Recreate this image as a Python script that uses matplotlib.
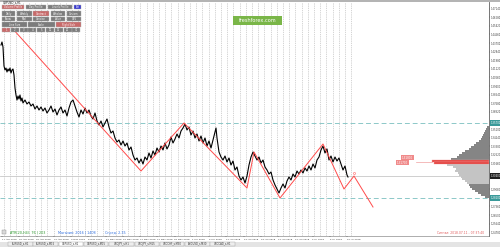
import matplotlib
matplotlib.use("Agg")
import matplotlib.pyplot as plt
import numpy as np
from matplotlib.patches import Rectangle

# ---- data ----
bars = [1, 2, 3, 4, 5, 6, 7, 8, 9, 10, 11, 12, 13, 14, 15, 16, 17, 18, 19, 20,
        21, 22, 23, 25, 27, 29, 31, 33, 35, 37, 39, 41, 43, 45, 47, 49, 51, 53, 55, 57,
        59, 61, 63, 65, 67, 69, 71, 73, 75, 77, 79, 81, 83, 85, 87, 89, 91, 93, 95, 97,
        99, 101, 103, 105, 107, 109, 111, 113, 115, 117, 119, 121, 123, 125, 127, 129, 131, 133, 135, 137,
        139, 141, 143, 145, 147, 149, 151, 153, 155, 157, 159, 161, 163, 165, 167, 169, 171, 173, 175, 177,
        179, 181, 183, 185, 187, 189, 191, 193, 195, 197, 199, 201, 203, 205, 207, 209, 211, 213, 215, 216,
        217, 219, 221, 223, 225, 227, 229, 231, 233, 235, 237, 239, 241, 243, 245, 247, 249, 251, 253, 255,
        257, 259, 261, 263, 265, 267, 269, 271, 273, 275, 277, 279, 281, 283, 285, 287, 289, 291, 293, 295,
        297, 299, 301, 303, 305, 307, 309, 311, 313, 315, 317, 319, 321, 323, 325, 327, 329, 331, 333, 335,
        337, 339, 341, 343, 345, 347, 348]
close = [1.435, 1.438, 1.433, 1.414, 1.410, 1.412, 1.408, 1.411, 1.409, 1.412, 1.407, 1.410, 1.411, 1.405, 1.392, 1.385, 1.380, 1.384, 1.381, 1.385,
         1.379, 1.382, 1.377, 1.380, 1.376, 1.378, 1.374, 1.376, 1.371, 1.374, 1.370, 1.373, 1.369, 1.372, 1.367, 1.370, 1.374, 1.368, 1.371, 1.365,
         1.370, 1.373, 1.367, 1.370, 1.364, 1.372, 1.378, 1.380, 1.374, 1.368, 1.363, 1.370, 1.366, 1.372, 1.367, 1.370, 1.364, 1.361, 1.367, 1.359,
         1.355, 1.359, 1.353, 1.357, 1.361, 1.353, 1.347, 1.349, 1.342, 1.338, 1.340, 1.335, 1.339, 1.334, 1.337, 1.330, 1.333, 1.325, 1.320, 1.322,
         1.317, 1.321, 1.316, 1.323, 1.320, 1.327, 1.322, 1.329, 1.325, 1.332, 1.328, 1.334, 1.330, 1.337, 1.331, 1.335, 1.343, 1.337, 1.341, 1.346,
         1.342, 1.349, 1.352, 1.356, 1.350, 1.353, 1.345, 1.349, 1.342, 1.346, 1.339, 1.344, 1.337, 1.342, 1.334, 1.339, 1.332, 1.340, 1.348, 1.352,
         1.342, 1.328, 1.323, 1.320, 1.324, 1.318, 1.322, 1.315, 1.319, 1.310, 1.313, 1.304, 1.300, 1.303, 1.297, 1.304, 1.315, 1.323, 1.328, 1.324,
         1.320, 1.323, 1.317, 1.320, 1.313, 1.310, 1.306, 1.308, 1.300, 1.295, 1.291, 1.287, 1.292, 1.296, 1.292, 1.299, 1.303, 1.300, 1.306, 1.303,
         1.309, 1.306, 1.310, 1.307, 1.312, 1.309, 1.314, 1.310, 1.316, 1.312, 1.320, 1.323, 1.330, 1.334, 1.327, 1.331, 1.320, 1.324, 1.318, 1.323,
         1.319, 1.322, 1.316, 1.310, 1.314, 1.305, 1.303]

zigzag_bars = [12, 141, 184, 247, 254, 280, 323, 344, 354, 373]
zigzag_price = [1.452, 1.309, 1.357, 1.292, 1.328, 1.282, 1.336, 1.291, 1.304, 1.273]

level_hi = 1.357
level_lo = 1.282
last_price = 1.304

profile_price = [1.353, 1.351, 1.349, 1.347, 1.345, 1.343, 1.341, 1.339, 1.337, 1.335,
                 1.333, 1.331, 1.329, 1.327, 1.325, 1.323, 1.321, 1.319, 1.317, 1.315,
                 1.313, 1.311, 1.309, 1.307, 1.305, 1.303, 1.301, 1.299, 1.297, 1.295,
                 1.293, 1.291, 1.289, 1.287, 1.285, 1.283]
profile_vol = [2, 3, 4, 5, 6, 7, 8, 10, 13, 15,
               18, 20, 24, 27, 30, 32, 38, 57, 55, 42,
               36, 33, 34, 31, 30, 28, 27, 24, 22, 20,
               19, 17, 14, 11, 8, 4]
poc_prices = [1.319, 1.317]
value_area = (1.296, 1.316)

date_labels = ["17 Apr 2018", "20 Apr 2018", "25 Apr 2018", "30 Apr 2018", "3 May 2018",
               "8 May 2018", "11 May 2018", "16 May 2018", "21 May 2018", "24 May 2018",
               "29 May 2018", "1 Jun 2018", "6 Jun 2018", "11 Jun 2018", "14 Jun 2018",
               "19 Jun 2018", "22 Jun 2018", "27 Jun 2018", "2 Jul 2018", "5 Jul 2018",
               "10 Jul 2018"]
tabs = ["EURUSD_s,H1", "EURUSD_s,M15", "GBPUSD_s,H1", "GBPUSD_s,M15", "USDJPY_s,H1",
        "USDJPY_s,M15", "USDCHF_s,M30", "AUDUSD_s,M30", "USDCAD_s,H1"]

W, H = 500, 247


def fr(x0, y0, x1, y1):
    return [x0 / W, 1 - y1 / H, (x1 - x0) / W, (y1 - y0) / H]


fig = plt.figure(figsize=(5, 2.47), dpi=100)
fig.patch.set_facecolor("white")

ax = fig.add_axes(fr(0, 2, 489, 236))
ax.set_xlim(0, 489)
ax.set_ylim(1.244, 1.478)
for s in ["top", "left", "bottom"]:
    ax.spines[s].set_visible(False)
ax.spines["right"].set_color("#606060")
ax.spines["right"].set_linewidth(0.6)

# period separators
for x in np.arange(4, 352, 6.2):
    ax.axvline(x, color="#bcbcbc", lw=0.45, ls=(0, (2, 1.5)), zorder=1)

ax.axhline(level_hi, color="#8cc8c8", lw=0.7, ls=(0, (5, 3)), zorder=2)
ax.axhline(level_lo, color="#8cc8c8", lw=0.7, ls=(0, (5, 3)), zorder=2)
ax.axhline(last_price, color="#c8c8c8", lw=0.6, zorder=2)

# volume profile
cols = []
for p in profile_price:
    if value_area[0] <= p <= value_area[1]:
        cols.append("#c4c4c4")
    else:
        cols.append("#858585")
ax.barh(profile_price, [-v for v in profile_vol], left=489, height=0.002,
        color=cols, linewidth=0, zorder=3)
ax.barh(poc_prices, [-57, -55], left=489, height=0.0022, color="#e23a36",
        edgecolor="#f5a0a0", linewidth=0.3, zorder=4)
ax.plot([416, 432], [1.318, 1.318], color="#f0a0a0", lw=0.5, zorder=4)
ax.text(402, 1.3215, "1.31800", fontsize=2, color="white", zorder=5,
        bbox=dict(boxstyle="square,pad=0.2", fc="#f08a8a", ec="none"))
ax.text(397, 1.3165, "1.31700", fontsize=2, color="white", zorder=5,
        bbox=dict(boxstyle="square,pad=0.2", fc="#f08a8a", ec="none"))

ax.plot(bars, close, color="black", lw=0.8, zorder=5)
ax.plot(zigzag_bars, zigzag_price, color="#ff4a4a", lw=0.7, zorder=6)
ax.plot([354], [1.307], marker="o", ms=1.5, mfc="none", mec="#ff6060", mew=0.4, zorder=6)

# right price scale (skip ticks hidden under the boxed levels)
boxed = [level_hi, level_lo, last_price]
ticks = [t for t in np.arange(1.2478, 1.478, 0.0086)
         if min(abs(t - b) for b in boxed) > 0.0055]
ax.yaxis.tick_right()
ax.set_yticks(ticks)
ax.set_yticklabels([f"{t:.5f}" for t in ticks], fontsize=1.8, color="#404040")
ax.tick_params(axis="y", length=1, width=0.3, pad=0.4, colors="#404040")
for val, fc in [(level_hi, "#3a9a9a"), (level_lo, "#3a9a9a"), (last_price, "#202020")]:
    ax.annotate(f"{val:.5f}", xy=(1.0, val), xycoords=("axes fraction", "data"),
                xytext=(1.0, 0), textcoords="offset points", fontsize=1.8, color="white",
                va="center", ha="left", zorder=7,
                bbox=dict(boxstyle="square,pad=0.25", fc=fc, ec="none"), annotation_clip=False)

# date scale
ax.set_xticks(np.linspace(2, 347, len(date_labels)))
ax.set_xticklabels(date_labels, fontsize=1.7, color="#303030", ha="left")
ax.tick_params(axis="x", length=1, width=0.3, pad=0.8)

# overlay in pixel space for terminal UI
ui = fig.add_axes([0, 0, 1, 1], zorder=10)
ui.set_xlim(0, W)
ui.set_ylim(H, 0)
ui.axis("off")
ui.patch.set_alpha(0)

ui.add_patch(Rectangle((0, 0), W, 2, fc="#b4b4b4", ec="none"))
ui.plot([0, 489], [236, 236], color="#707070", lw=0.4)
ui.text(3, 2.4, "GBPUSD_s,H1", fontsize=2, color="#202020", va="center")

gray = "#7c7c7c"
pink = "#c86a6a"
blue = "#3636d0"
rows = [
    (5, 9.5, [("Volume Profile", 2, 24, pink), ("Day Profile", 26, 46, gray),
              ("Levels Profile", 48, 72, gray), ("Ext", 74, 81, blue)]),
    (11.5, 16, [("Daily", 2, 15, gray), ("Weekly", 17, 32, gray), ("Contract", 33, 49, pink),
                ("Window", 51, 65, gray), ("Custom", 67, 81, gray)]),
    (17, 21.5, [("Show", 2, 15, gray), ("Mid", 17, 32, gray), ("Concise", 33, 49, gray),
                ("Value", 51, 65, gray), ("CSV", 67, 81, gray)]),
    (22.5, 27, [("Line Size", 2, 27, gray), ("Scale", 28, 55, gray), ("Right Side", 56, 81, pink)]),
]
for y0, y1, btns in rows:
    for label, x0, x1, c in btns:
        ui.add_patch(Rectangle((x0, y0), x1 - x0, y1 - y0, fc=c, ec="#b0b0b0", lw=0.3))
        ui.text((x0 + x1) / 2, (y0 + y1) / 2, label, fontsize=1.8, color="white",
                ha="center", va="center")
small = ["1", "2", "3", "4", "5", "10", "15", "20", "30"]
for i, lab in enumerate(small):
    x0 = 2 + i * 8.8
    ui.add_patch(Rectangle((x0, 28), 8, 4.5, fc=pink if i == 0 else gray, ec="#b0b0b0", lw=0.3))
    ui.text(x0 + 4, 30.3, lab, fontsize=1.8, color="white", ha="center", va="center")

# watermark
ui.add_patch(Rectangle((233, 16), 49, 9, fc="#7ab648", ec="none"))
ui.text(257.5, 20.6, "freshforex.com", fontsize=3.6, color="white", ha="center", va="center")

# indicator line
ui.add_patch(Rectangle((2, 229.5), 3.5, 4, fc="#d8d8d8", ec="#909090", lw=0.3))
ui.text(10, 232.5, "ATR(20,H4): 76 | 203", fontsize=2.4, color="#2e9a2e", va="center")
ui.text(58, 232.5, "Магазин: 2016 | 1408", fontsize=2.4, color="#2f6fe0", va="center")
ui.text(105, 232.5, "Спред: 2.35", fontsize=2.4, color="#2f6fe0", va="center")
ui.text(437, 232.5, "Сигнал: 2018.07.11 - 07:37:40", fontsize=2.2, color="#e05a5a", va="center")

# tabs + status
ui.add_patch(Rectangle((0, 241.5), W, 5.5, fc="#e4e4e4", ec="none"))
for i, t in enumerate(tabs):
    x0 = 8 + i * 25.3
    active = t == "GBPUSD_s,H1"
    ui.add_patch(Rectangle((x0, 241.5), 24.5, 4.5, fc="white" if active else "#ededed",
                           ec="#a0a0a0", lw=0.3))
    ui.text(x0 + 12.2, 243.8, t, fontsize=1.8, color="#303030", ha="center", va="center")

fig.savefig("out.png", dpi=100)
